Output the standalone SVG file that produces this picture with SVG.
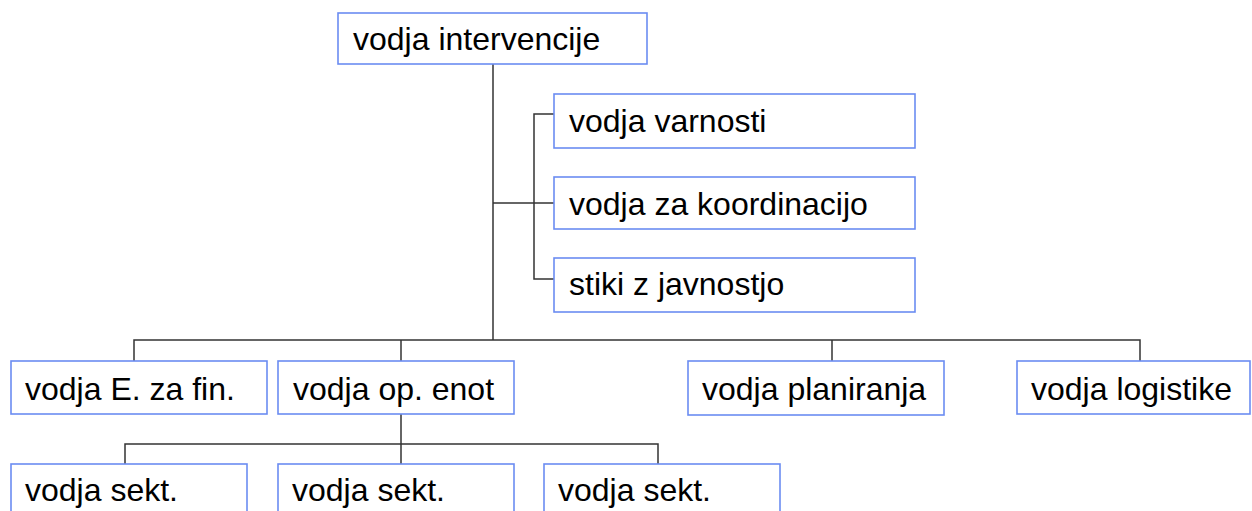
<svg xmlns="http://www.w3.org/2000/svg" width="1252" height="511" viewBox="0 0 1252 511">
<style>
.box{fill:#ffffff;stroke:#6b8cf2;stroke-width:1.6}
.lbl{font-family:"Liberation Sans",Arial,sans-serif;font-size:32px;fill:#000}
.con{fill:none;stroke:#333;stroke-width:1.5}
</style>
<rect x="0" y="0" width="1252" height="511" fill="#ffffff"/>
<g id="connectors">
<path class="con" d="M493,64 V340"/>
<path class="con" d="M134,361 V340 H1140 V361"/>
<path class="con" d="M401,340 V361"/>
<path class="con" d="M832,340 V361"/>
<path class="con" d="M493,203 H554"/>
<path class="con" d="M554,114 H534 V279 H554"/>
<path class="con" d="M401,414 V464"/>
<path class="con" d="M125,464 V444 H658 V464"/>
</g>
<g id="n_root"><rect class="box" x="338" y="13" width="309" height="51"/><text class="lbl" x="353" y="50">vodja intervencije</text></g>
<g id="n_varnost"><rect class="box" x="554" y="94" width="361" height="54"/><text class="lbl" x="569" y="132">vodja varnosti</text></g>
<g id="n_koord"><rect class="box" x="554" y="177" width="361" height="52"/><text class="lbl" x="569" y="215">vodja za koordinacijo</text></g>
<g id="n_javnost"><rect class="box" x="554" y="258" width="361" height="54"/><text class="lbl" x="569" y="295">stiki z javnostjo</text></g>
<g id="n_fin"><rect class="box" x="11" y="361" width="256" height="53"/><text class="lbl" x="25" y="400">vodja E. za fin.</text></g>
<g id="n_openot"><rect class="box" x="278" y="361" width="236" height="53"/><text class="lbl" x="293" y="400">vodja op. enot</text></g>
<g id="n_plan"><rect class="box" x="688" y="361" width="256" height="54"/><text class="lbl" x="702" y="400">vodja planiranja</text></g>
<g id="n_log"><rect class="box" x="1017" y="361" width="233" height="53"/><text class="lbl" x="1031" y="400">vodja logistike</text></g>
<g id="n_sekt1"><rect class="box" x="11" y="464" width="236" height="60"/><text class="lbl" x="25" y="501">vodja sekt.</text></g>
<g id="n_sekt2"><rect class="box" x="278" y="464" width="236" height="60"/><text class="lbl" x="292" y="501">vodja sekt.</text></g>
<g id="n_sekt3"><rect class="box" x="544" y="464" width="236" height="60"/><text class="lbl" x="558" y="501">vodja sekt.</text></g>
</svg>
